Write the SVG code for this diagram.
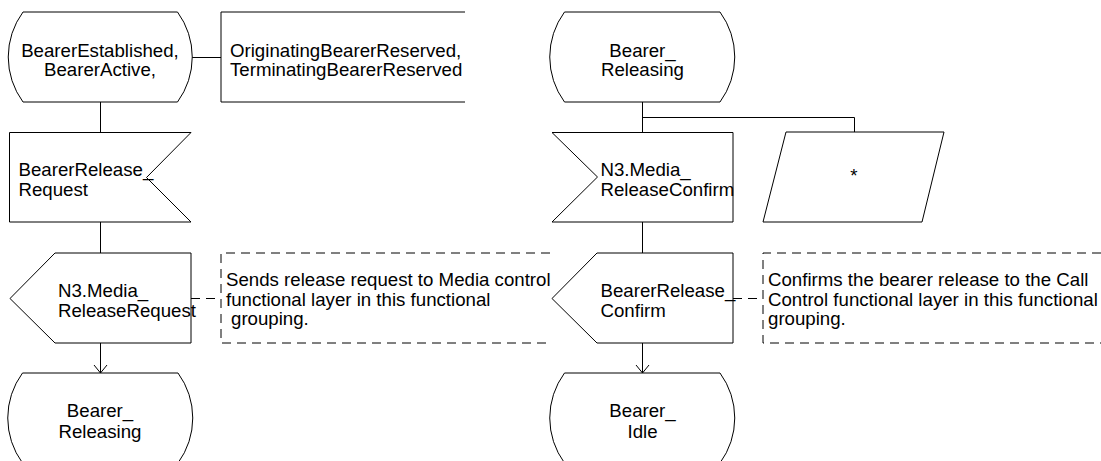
<svg xmlns="http://www.w3.org/2000/svg" width="1101" height="461" viewBox="0 0 1101 461">
<style>
  .shape { fill: #ffffff; stroke: #000000; stroke-width: 1; }
  .open { fill: none; stroke: #000000; stroke-width: 1; }
  .dash { fill: none; stroke: #000000; stroke-width: 1; stroke-dasharray: 9 6; }
  .line { fill: none; stroke: #000000; stroke-width: 1; }
  text { font-family: "Liberation Sans", Arial, sans-serif; font-size: 18.67px; fill: #000000; }
  .c { text-anchor: middle; }
</style>
<defs>
  <marker id="arrow" viewBox="-10 -8 12 16" refX="0" refY="0" markerWidth="12" markerHeight="16" markerUnits="userSpaceOnUse" orient="auto">
    <path d="M-8,-6.5 L0,0 L-8,6.5" fill="none" stroke="#000000" stroke-width="1"/>
  </marker>
</defs>
<rect width="1101" height="461" fill="#ffffff"/>

<g id="connectors">
  <line class="line" x1="100.5" y1="102" x2="100.5" y2="132"/>
  <line class="line" x1="192" y1="57.5" x2="221" y2="57.5"/>
  <line class="line" x1="100.5" y1="222" x2="100.5" y2="253"/>
  <line class="dash" x1="191" y1="298.5" x2="221" y2="298.5"/>
  <line class="line" x1="100.5" y1="343" x2="100.5" y2="373" marker-end="url(#arrow)"/>
  <line class="line" x1="642.5" y1="102" x2="642.5" y2="132"/>
  <polyline class="line" points="642.5,117.5 854.5,117.5 854.5,132"/>
  <line class="line" x1="642.5" y1="222" x2="642.5" y2="253"/>
  <line class="dash" x1="733" y1="298.5" x2="763" y2="298.5"/>
  <line class="line" x1="642.5" y1="343" x2="642.5" y2="373" marker-end="url(#arrow)"/>
</g>

<g id="state-established">
  <path class="shape" d="M23,12 H177.5 A76,76 0 0 1 177.5,102 H23 A76,76 0 0 1 23,12 Z"/>
  <text class="c" x="100" y="57">BearerEstablished,</text>
  <text class="c" x="100" y="76">BearerActive,</text>
</g>

<g id="state-list">
  <path class="open" d="M465,12 H221 V102 H465"/>
  <text x="230" y="57">OriginatingBearerReserved,</text>
  <text x="230" y="76">TerminatingBearerReserved</text>
</g>

<g id="input-release-request">
  <path class="shape" d="M9.5,132.5 H191 L146.5,177.5 L191,222 H9.5 Z"/>
  <text x="18.5" y="176">BearerRelease_</text>
  <text x="18.5" y="196">Request</text>
</g>

<g id="output-media-release-request">
  <path class="shape" d="M10,298.5 L55,253 H191 V343 H55 Z"/>
  <text x="58" y="297">N3.Media_</text>
  <text x="58" y="317">ReleaseRequest</text>
</g>

<g id="comment-left">
  <path class="dash" d="M550,253 H221 V343 H550"/>
  <text x="226" y="286">Sends release request to Media control</text>
  <text x="226" y="305.5">functional layer in this functional</text>
  <text x="226" y="325"> <tspan x="231">grouping.</tspan></text>
</g>

<g id="state-releasing-left">
  <path class="shape" d="M22.5,373 H178 A76,76 0 0 1 178,463 H22.5 A76,76 0 0 1 22.5,373 Z"/>
  <text class="c" x="100" y="417">Bearer_</text>
  <text class="c" x="100" y="437.5">Releasing</text>
</g>

<g id="state-releasing-right">
  <path class="shape" d="M564.5,12 H720 A76,76 0 0 1 720,102 H564.5 A76,76 0 0 1 564.5,12 Z"/>
  <text class="c" x="642.5" y="56.5">Bearer_</text>
  <text class="c" x="642.5" y="76">Releasing</text>
</g>

<g id="input-media-release-confirm">
  <path class="shape" d="M552,132.5 H733 V222 H552 L597.5,177 Z"/>
  <text x="600.5" y="176">N3.Media_</text>
  <text x="600.5" y="196">ReleaseConfirm</text>
</g>

<g id="input-any">
  <path class="shape" d="M786,132 H944 L922,222 H763 Z"/>
  <text class="c" x="854" y="182">*</text>
</g>

<g id="output-release-confirm">
  <path class="shape" d="M552,298.5 L597,253 H733 V343 H597 Z"/>
  <text x="600.5" y="297">BearerRelease_</text>
  <text x="600.5" y="317">Confirm</text>
</g>

<g id="comment-right">
  <path class="dash" d="M1101,253 H763 V343 H1101"/>
  <text x="768" y="286">Confirms the bearer release to the Call</text>
  <text x="768" y="305.5">Control functional layer in this functional</text>
  <text x="768" y="325">grouping.</text>
</g>

<g id="state-idle">
  <path class="shape" d="M564.5,373 H720 A76,76 0 0 1 720,463 H564.5 A76,76 0 0 1 564.5,373 Z"/>
  <text class="c" x="642.5" y="417">Bearer_</text>
  <text class="c" x="642.5" y="437.5">Idle</text>
</g>
</svg>
